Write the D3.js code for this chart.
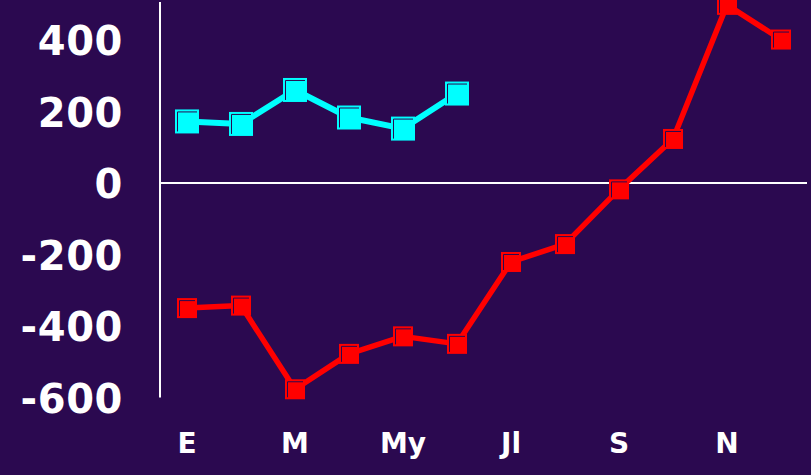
<!DOCTYPE html>
<html>
<head>
<meta charset="utf-8">
<script src="https://cdn.jsdelivr.net/npm/d3@7"></script>
<style>
  html, body { margin: 0; padding: 0; background: #2b0950; }
  svg { display: block; }
  text { font-family: "DejaVu Sans", Verdana, sans-serif; font-weight: bold; fill: #ffffff; }
</style>
</head>
<body>
<svg id="chart" width="811" height="475"></svg>
<script>
// Monthly balance, two series
const months = ["E", "F", "M", "A", "My", "Jn", "Jl", "Ag", "S", "O", "N", "D"];
const monthLabels = ["E", "M", "My", "Jl", "S", "N"];
const yTicks = [-600, -400, -200, 0, 200, 400];

const redValues = [-350, -343, -577, -478, -429, -450, -221, -171, -18, 123, 498, 401];
const cyanValues = [172, 165, 260, 183, 152, 250];

const bg = "#2b0950";
const svg = d3.select("#chart");
svg.append("rect").attr("width", 811).attr("height", 475).attr("fill", bg);

const x = d3.scaleBand().domain(months).range([160, 808]);
const y = d3.scaleLinear().domain([-600, 506]).range([397.5, 2]);
const cx = m => x(m) + x.bandwidth() / 2;

// y axis labels
const yAxis = d3.axisLeft(y).tickValues(yTicks).tickSize(0).tickPadding(37)
  .tickFormat(d => String(d));
const gy = svg.append("g").attr("transform", "translate(160,0)").call(yAxis);
gy.select(".domain").remove();
gy.selectAll("text").attr("font-size", 40).attr("dy", "0.37em").attr("letter-spacing", 0.6)
  .style("font-family", '"DejaVu Sans", Verdana, sans-serif').style("font-weight", "bold").attr("fill", "#fff");

// x axis labels
const xAxis = d3.axisBottom(x).tickValues(monthLabels).tickSize(0).tickPadding(0);
const gx = svg.append("g").attr("transform", "translate(0,453)").call(xAxis);
gx.select(".domain").remove();
gx.selectAll("text").attr("font-size", 28).attr("dy", 0).attr("y", 0)
  .style("font-family", '"DejaVu Sans", Verdana, sans-serif').style("font-weight", "bold").attr("fill", "#fff");

// axis lines
svg.append("line").attr("x1", 160).attr("x2", 160).attr("y1", y.range()[1]).attr("y2", y.range()[0])
  .attr("stroke", "#fff").attr("stroke-width", 2);
svg.append("line").attr("x1", 160).attr("x2", 807).attr("y1", y(0)).attr("y2", y(0))
  .attr("stroke", "#fff").attr("stroke-width", 2);

function drawSeries(values, color, size, width) {
  const data = values.map((v, i) => ({ m: months[i], v }));
  const line = d3.line().x(d => cx(d.m)).y(d => y(d.v));
  svg.append("path").datum(data).attr("d", line)
    .attr("fill", "none").attr("stroke", color).attr("stroke-width", width)
    .attr("stroke-linejoin", "round");
  const h = size / 2;
  const g = svg.append("g").selectAll("g").data(data).join("g")
    .attr("transform", d => `translate(${cx(d.m)},${y(d.v)})`);
  g.append("rect").attr("x", -h).attr("y", -h).attr("width", size).attr("height", size)
    .attr("fill", color);
  g.append("path")
    .attr("d", `M${-h + 2.5},${h - 2} V${-h + 2.5} H${h - 2}`)
    .attr("fill", "none").attr("stroke", bg).attr("stroke-width", 1);
}

drawSeries(redValues, "#ff0000", 20, 5.5);
drawSeries(cyanValues, "#00ffff", 24, 6);
</script>
</body>
</html>
